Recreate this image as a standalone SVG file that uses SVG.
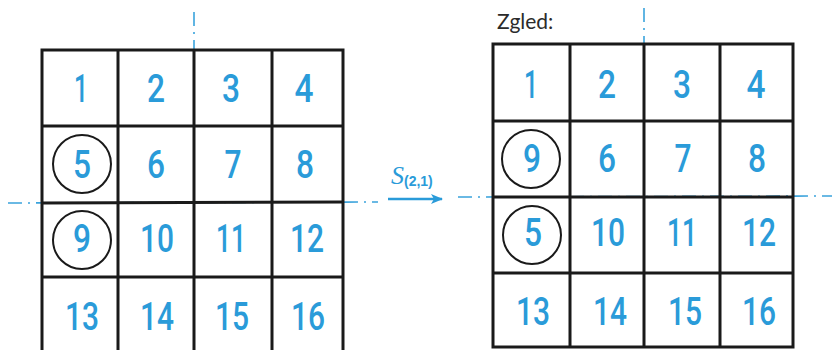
<svg xmlns="http://www.w3.org/2000/svg" width="832" height="350" viewBox="0 0 832 350">
<style>
.bg{fill:#ffffff}
.grid{fill:none;stroke:#1a1a1a;stroke-width:3}
.ring{fill:none;stroke:#1a1a1a;stroke-width:2}
.num{font-family:Roboto,"Liberation Sans",sans-serif;font-weight:500;font-size:38px;fill:#2a9bd9;text-anchor:middle}
.axis{fill:none;stroke:#3aa3dc;stroke-width:1.6;stroke-dasharray:14 6 2 6}
.arrow{fill:none;stroke:#2a9bd9;stroke-width:2.5}
.lbl{font-family:"Lato","Open Sans",sans-serif;font-size:21px;fill:#2b2b2b}
.op{font-family:"Liberation Serif","DejaVu Serif",serif;fill:#2a9bd9}
.sub{font-family:"Liberation Sans",sans-serif;font-weight:bold;fill:#2a9bd9}
</style>
<defs>
<marker id="ah" viewBox="0 0 12 10" refX="11" refY="5" markerWidth="12" markerHeight="10" markerUnits="userSpaceOnUse" orient="auto">
<path d="M0,0 L12,5 L0,10 L3,5 Z" fill="#2a9bd9"/>
</marker>
</defs>
<rect class="bg" x="0" y="0" width="832" height="350"/>
<g id="connectors">
<line class="axis" x1="8" y1="203" x2="378" y2="202"/>
<line class="axis" x1="458" y1="197" x2="832" y2="196"/>
<line class="axis" x1="194" y1="12" x2="194" y2="50"/>
<line class="axis" x1="644" y1="8" x2="644" y2="44"/>
<line class="arrow" x1="388" y1="199" x2="442" y2="199" marker-end="url(#ah)"/>
<text x="391" y="184"><tspan class="op" font-size="26" font-style="italic">S</tspan><tspan class="sub" font-size="14" dy="2">(2,1)</tspan></text>
</g>
<g id="left-grid">
<rect class="grid" x="42" y="50" width="301" height="310"/>
<line class="grid" x1="118" y1="50" x2="118" y2="352"/>
<line class="grid" x1="194" y1="50" x2="194" y2="352"/>
<line class="grid" x1="272" y1="50" x2="272" y2="352"/>
<line class="grid" x1="42" y1="126" x2="343" y2="126"/>
<line class="grid" x1="42" y1="203" x2="343" y2="202"/>
<line class="grid" x1="42" y1="277" x2="343" y2="277"/>
<circle class="ring" cx="82" cy="164" r="29"/>
<circle class="ring" cx="82" cy="240" r="29"/>
<text class="num" x="81" y="102" textLength="14" lengthAdjust="spacingAndGlyphs">1</text>
<text class="num" x="156" y="102" textLength="18" lengthAdjust="spacingAndGlyphs">2</text>
<text class="num" x="231" y="102" textLength="18" lengthAdjust="spacingAndGlyphs">3</text>
<text class="num" x="304" y="102" textLength="19" lengthAdjust="spacingAndGlyphs">4</text>
<text class="num" x="82" y="178" textLength="18" lengthAdjust="spacingAndGlyphs">5</text>
<text class="num" x="156" y="178" textLength="18" lengthAdjust="spacingAndGlyphs">6</text>
<text class="num" x="233" y="178" textLength="17" lengthAdjust="spacingAndGlyphs">7</text>
<text class="num" x="305" y="178" textLength="18" lengthAdjust="spacingAndGlyphs">8</text>
<text class="num" x="82" y="252" textLength="18" lengthAdjust="spacingAndGlyphs">9</text>
<text class="num" x="157" y="252" textLength="34" lengthAdjust="spacingAndGlyphs">10</text>
<text class="num" x="231" y="252" textLength="30" lengthAdjust="spacingAndGlyphs">11</text>
<text class="num" x="307" y="252" textLength="34" lengthAdjust="spacingAndGlyphs">12</text>
<text class="num" x="82" y="330" textLength="34" lengthAdjust="spacingAndGlyphs">13</text>
<text class="num" x="157" y="330" textLength="34" lengthAdjust="spacingAndGlyphs">14</text>
<text class="num" x="232" y="330" textLength="34" lengthAdjust="spacingAndGlyphs">15</text>
<text class="num" x="308" y="330" textLength="34" lengthAdjust="spacingAndGlyphs">16</text>
</g>
<g id="right-grid">
<text class="lbl" x="497" y="29">Zgled:</text>
<rect class="grid" x="493" y="44" width="300" height="303"/>
<line class="grid" x1="570" y1="44" x2="570" y2="347"/>
<line class="grid" x1="644" y1="44" x2="644" y2="347"/>
<line class="grid" x1="720" y1="44" x2="720" y2="347"/>
<line class="grid" x1="493" y1="121" x2="793" y2="121"/>
<line class="grid" x1="493" y1="197" x2="793" y2="197"/>
<line class="grid" x1="493" y1="273" x2="793" y2="273"/>
<circle class="ring" cx="531" cy="159" r="29"/>
<circle class="ring" cx="532" cy="235" r="29"/>
<text class="num" x="531" y="98" textLength="14" lengthAdjust="spacingAndGlyphs">1</text>
<text class="num" x="607" y="98" textLength="18" lengthAdjust="spacingAndGlyphs">2</text>
<text class="num" x="682" y="98" textLength="18" lengthAdjust="spacingAndGlyphs">3</text>
<text class="num" x="756" y="98" textLength="19" lengthAdjust="spacingAndGlyphs">4</text>
<text class="num" x="532" y="172" textLength="18" lengthAdjust="spacingAndGlyphs">9</text>
<text class="num" x="607" y="172" textLength="18" lengthAdjust="spacingAndGlyphs">6</text>
<text class="num" x="683" y="172" textLength="17" lengthAdjust="spacingAndGlyphs">7</text>
<text class="num" x="757" y="172" textLength="18" lengthAdjust="spacingAndGlyphs">8</text>
<text class="num" x="533" y="246" textLength="18" lengthAdjust="spacingAndGlyphs">5</text>
<text class="num" x="608" y="246" textLength="34" lengthAdjust="spacingAndGlyphs">10</text>
<text class="num" x="682" y="246" textLength="30" lengthAdjust="spacingAndGlyphs">11</text>
<text class="num" x="759" y="246" textLength="34" lengthAdjust="spacingAndGlyphs">12</text>
<text class="num" x="533" y="325" textLength="34" lengthAdjust="spacingAndGlyphs">13</text>
<text class="num" x="610" y="325" textLength="34" lengthAdjust="spacingAndGlyphs">14</text>
<text class="num" x="685" y="325" textLength="34" lengthAdjust="spacingAndGlyphs">15</text>
<text class="num" x="759" y="325" textLength="34" lengthAdjust="spacingAndGlyphs">16</text>
</g>
</svg>
